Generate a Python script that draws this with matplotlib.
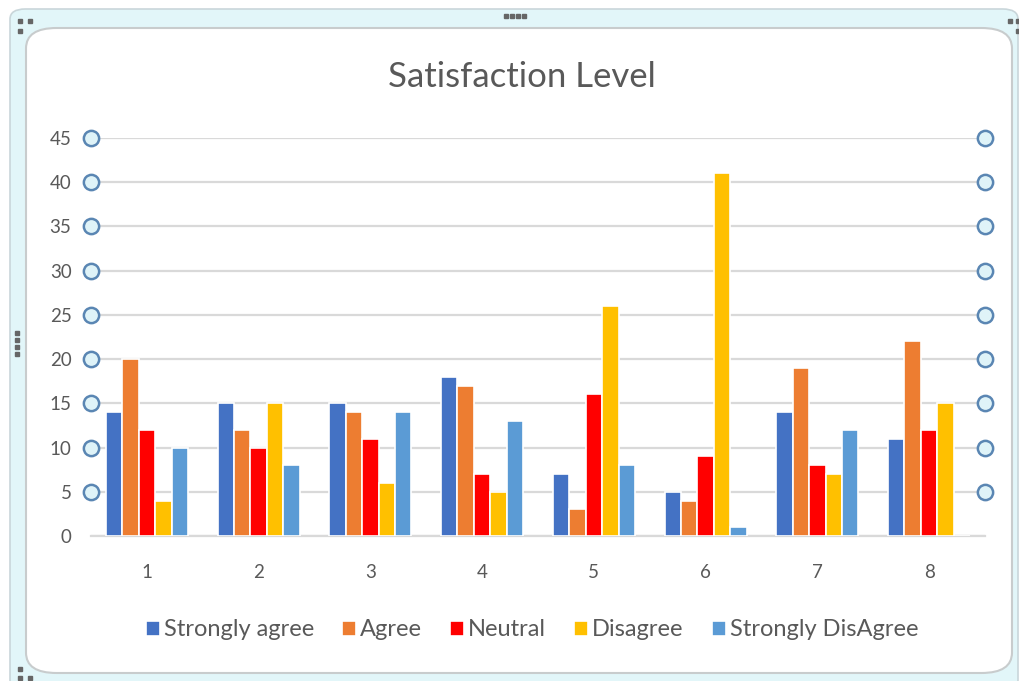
import matplotlib
matplotlib.use("Agg")
import matplotlib.pyplot as plt
from matplotlib.patches import FancyBboxPatch
import numpy as np

categories = ["1", "2", "3", "4", "5", "6", "7", "8"]
series_names = ["Strongly agree", "Agree", "Neutral", "Disagree", "Strongly DisAgree"]
strongly_agree = [14, 15, 15, 18, 7, 5, 14, 11]
agree = [20, 12, 14, 17, 3, 4, 19, 22]
neutral = [12, 10, 11, 7, 16, 9, 8, 12]
disagree = [4, 15, 6, 5, 26, 41, 7, 15]
strongly_disagree = [10, 8, 14, 13, 8, 1, 12, 0]
colors = ["#4472C4", "#ED7D31", "#FF0000", "#FFC000", "#5B9BD5"]
yticks = [0, 5, 10, 15, 20, 25, 30, 35, 40, 45]

plt.rcParams['font.family'] = ['Lato', 'DejaVu Sans']
W, H = 1020, 681
fig = plt.figure(figsize=(W / 100, H / 100), dpi=100)
fig.patch.set_facecolor("white")

def fx(px):
    return px / W

def fy(py):
    return 1 - py / H

# outer light cyan frame band
outer = FancyBboxPatch((fx(10), fy(690)), fx(1008), (690 - 9) / H,
                       boxstyle="round,pad=0,rounding_size=0.015",
                       transform=fig.transFigure, facecolor="#e2f6f9",
                       edgecolor="#c9d6da", linewidth=1.2, zorder=0)
fig.patches.append(outer)
inner = FancyBboxPatch((fx(26), fy(673)), fx(1012 - 26), (673 - 28) / H,
                       boxstyle="round,pad=0,rounding_size=0.03",
                       transform=fig.transFigure, facecolor="white",
                       edgecolor="#c8cccd", linewidth=1.5, zorder=0.5)
fig.patches.append(inner)

# selection handle dots
def dots(xs, ys):
    fig.add_artist(plt.Line2D([fx(v) for v in xs], [fy(v) for v in ys], ls="none",
                              marker="s", ms=3.2, color="#666666",
                              transform=fig.transFigure))
dots([20, 30, 20], [21, 21, 31])
dots([1010, 1018], [21, 21])
dots([1018], [31])
dots([20], [669])
dots([20, 30], [678, 678])
dots([506, 512, 518, 524], [16, 16, 16, 16])
dots([17, 17, 17, 17], [333, 340, 347, 354])

ax = fig.add_axes([fx(91), fy(536), fx(985 - 91), (536 - 138) / H])
ax.set_facecolor("none")
ax.set_zorder(3)

data = [strongly_agree, agree, neutral, disagree, strongly_disagree]
n = len(categories)
x = np.arange(n)
slot = 0.147
for i, (name, vals, c) in enumerate(zip(series_names, data, colors)):
    ax.bar(x + (i - 2) * slot, vals, width=slot, color=c, edgecolor="white",
           linewidth=1.2, label=name, zorder=3)

ax.set_xlim(-0.5, n - 0.5)
ax.set_ylim(0, 45)
ax.set_yticks(yticks)
ax.set_xticks(x)
ax.set_xticklabels(categories)
ax.yaxis.grid(True, color="#d9d9d9", linewidth=1.6, zorder=0)
ax.set_axisbelow(True)
for s in ["top", "right", "left"]:
    ax.spines[s].set_visible(False)
ax.spines["bottom"].set_color("#d9d9d9")
ax.spines["bottom"].set_linewidth(1.6)
ax.tick_params(axis="both", length=0, labelsize=13.5, labelcolor="#595959")
ax.tick_params(axis="y", pad=14)
ax.tick_params(axis="x", pad=20)

# circle handles at gridline ends
circ_y = yticks[1:]
for xe in (-0.5, n - 0.5):
    ax.plot([xe] * len(circ_y), circ_y, ls="none", marker="o", ms=11,
            mfc="#dff3f8", mec="#5a86b3", mew=1.8, clip_on=False, zorder=5)

title = fig.text(fx(522), fy(77), "Satisfaction Level", ha="center", va="center",
                 fontsize=25, color="#595959")
title.set_zorder(4)

leg = fig.legend(loc="center", bbox_to_anchor=(fx(532), fy(630)), ncol=5,
                 frameon=False, fontsize=17, handlelength=0.6, handleheight=0.6,
                 handletextpad=0.15, columnspacing=1.2, labelcolor="#595959")
leg.set_zorder(4)

fig.savefig("out.png", dpi=100)
